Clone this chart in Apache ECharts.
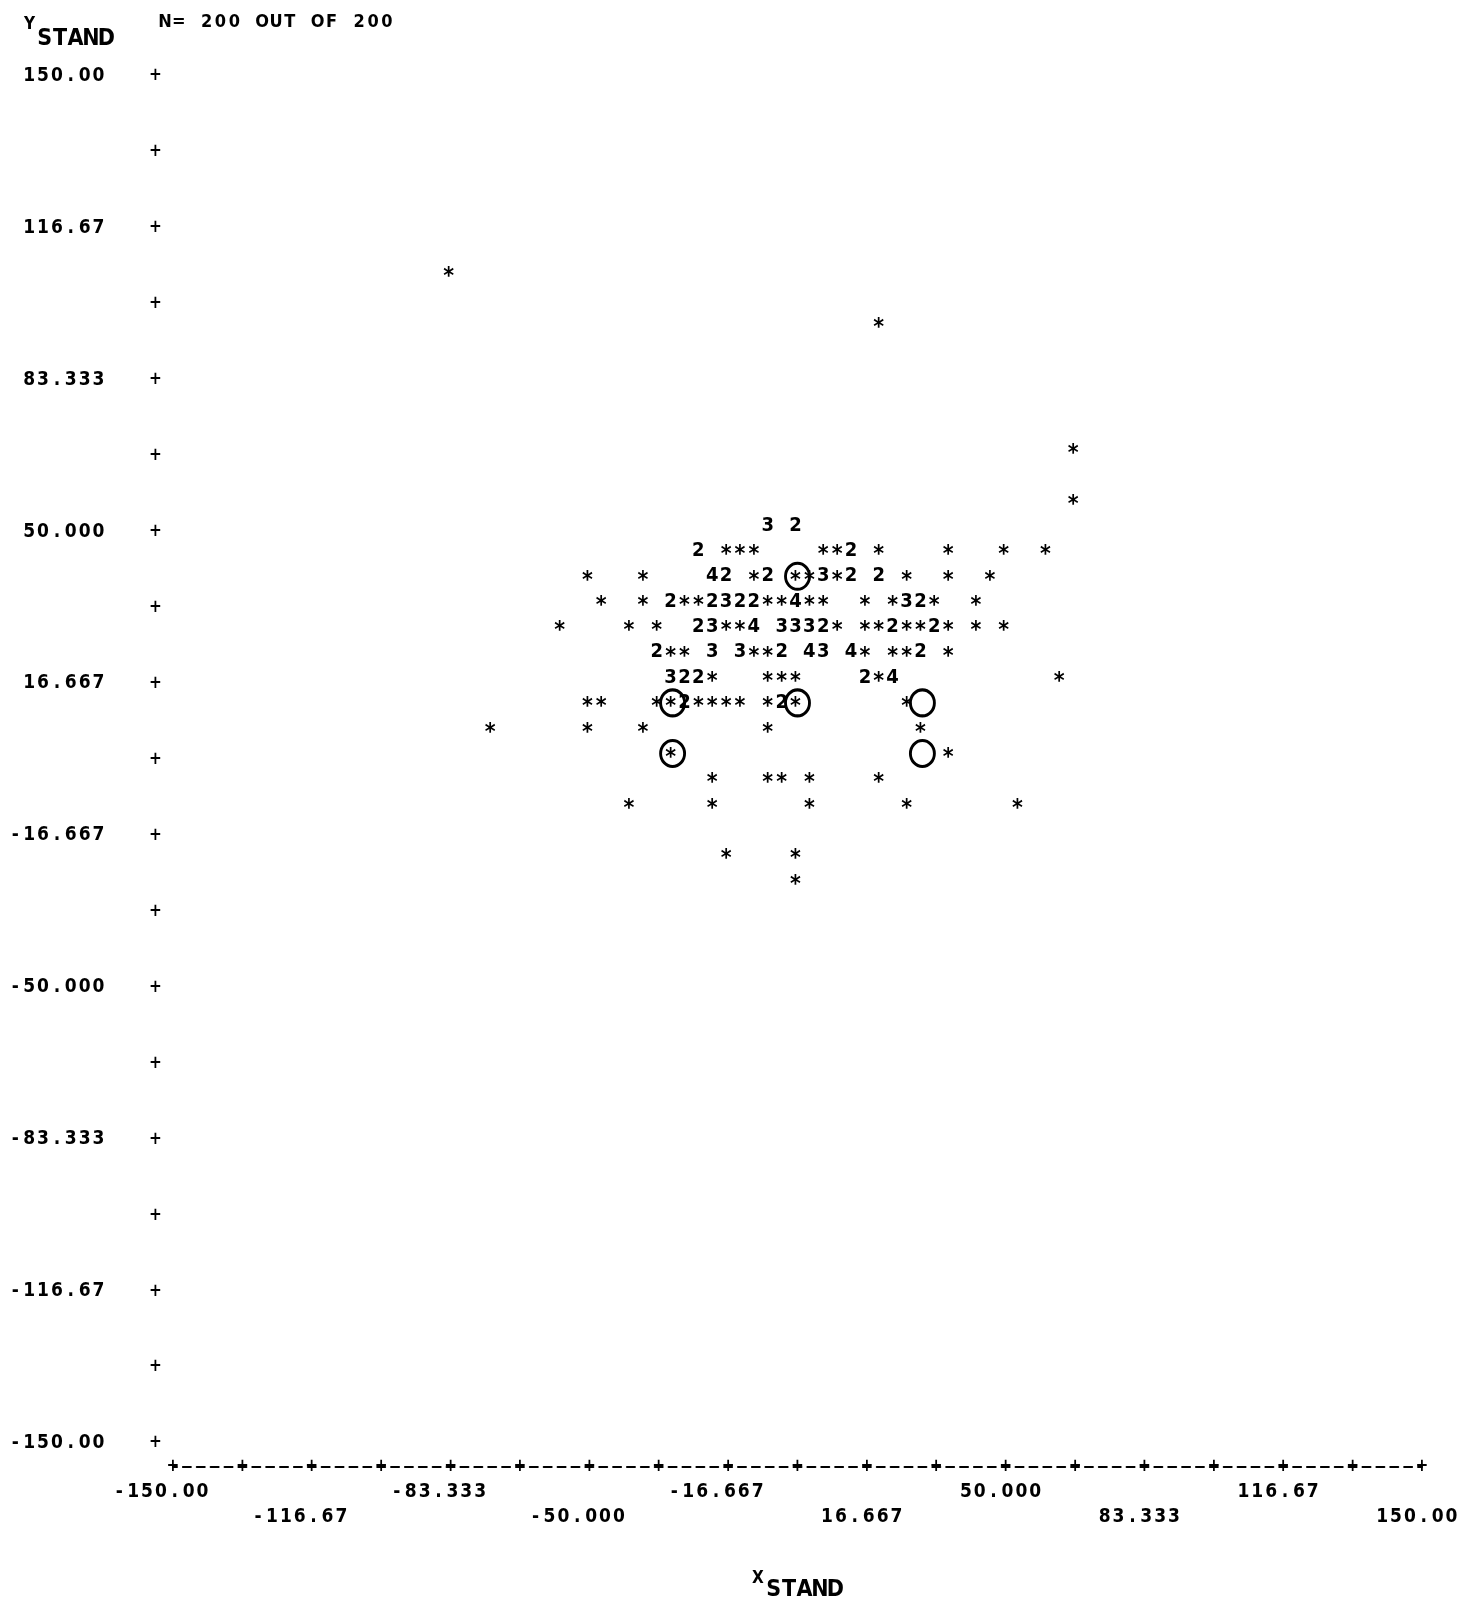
<!DOCTYPE html>
<html>
<head>
<meta charset="utf-8">
<script src="https://cdn.jsdelivr.net/npm/echarts@6/dist/echarts.min.js"></script>
<style>
  html, body { margin: 0; padding: 0; background: #fff; }
  #chart { width: 1461px; height: 1607px; }
</style>
</head>
<body>
<div id="chart"></div>
<script>
// Standardised X/Y scatter in line-printer style:
// '*' marks one case in a print cell, a digit marks that many cases.
const rowY = [105.56, 94.44, 66.67, 55.56, 50, 44.44, 38.89, 33.33, 27.78, 22.22,
              16.67, 11.11, 5.56, 0, -5.56, -11.11, -22.22, -27.78];
const rowX = [
  [-83.33],
  [20],
  [66.67],
  [66.67],
  [-6.67, 0],
  [-23.33, -16.67, -13.33, -10, 6.67, 10, 13.33, 20, 36.67, 50, 60],
  [-50, -36.67, -20, -16.67, -10, -6.67, 0, 3.33, 6.67, 10, 13.33, 20, 26.67, 36.67, 46.67],
  [-46.67, -36.67, -30, -26.67, -23.33, -20, -16.67, -13.33, -10, -6.67, -3.33, 0, 3.33, 6.67, 16.67, 23.33, 26.67, 30, 33.33, 43.33],
  [-56.67, -40, -33.33, -23.33, -20, -16.67, -13.33, -10, -3.33, 0, 3.33, 6.67, 10, 16.67, 20, 23.33, 26.67, 30, 33.33, 36.67, 43.33, 50],
  [-33.33, -30, -26.67, -20, -13.33, -10, -6.67, -3.33, 3.33, 6.67, 13.33, 16.67, 23.33, 26.67, 30, 36.67],
  [-30, -26.67, -23.33, -20, -6.67, -3.33, 0, 16.67, 20, 23.33, 63.33],
  [-50, -46.67, -33.33, -30, -26.67, -23.33, -20, -16.67, -13.33, -6.67, -3.33, 0, 26.67],
  [-73.33, -50, -36.67, -6.67, 30],
  [-30, 36.67],
  [-20, -6.67, -3.33, 3.33, 20],
  [-40, -20, 3.33, 26.67, 53.33],
  [-16.67, 0],
  [0]
];
const rowN = [
  [1],
  [1],
  [1],
  [1],
  [3, 2],
  [2, 1, 1, 1, 1, 1, 2, 1, 1, 1, 1],
  [1, 1, 4, 2, 1, 2, 1, 1, 3, 1, 2, 2, 1, 1, 1],
  [1, 1, 2, 1, 1, 2, 3, 2, 2, 1, 1, 4, 1, 1, 1, 1, 3, 2, 1, 1],
  [1, 1, 1, 2, 3, 1, 1, 4, 3, 3, 3, 2, 1, 1, 1, 2, 1, 1, 2, 1, 1, 1],
  [2, 1, 1, 3, 3, 1, 1, 2, 4, 3, 4, 1, 1, 1, 2, 1],
  [3, 2, 2, 1, 1, 1, 1, 2, 1, 4, 1],
  [1, 1, 1, 1, 2, 1, 1, 1, 1, 1, 2, 1, 1],
  [1, 1, 1, 1, 1],
  [1, 1],
  [1, 1, 1, 1, 1],
  [1, 1, 1, 1, 1],
  [1, 1],
  [1]
];

// Ringed cells
const circleX = [0, -30, 0, 30, -30, 30];
const circleY = [38.89, 11.11, 11.11, 11.11, 0, 0];

// Tick labels, from the minimum tick upwards ('' = tick without a number)
const xTickLabels = ['-150.00', '', '-116.67', '', '-83.333', '', '-50.000', '', '-16.667', '',
                     '16.667', '', '50.000', '', '83.333', '', '116.67', '', '150.00'];
const yTickLabels = ['-150.00', '', '-116.67', '', '-83.333', '', '-50.000', '', '-16.667', '',
                     '16.667', '', '50.000', '', '83.333', '', '116.67', '', '150.00'];

const headerText = 'N= 200 OUT OF 200';
const xNameSup = 'X', xNameMain = 'STAND';
const yNameSup = 'Y', yNameMain = 'STAND';

const FONT = "'DejaVu Sans Condensed','DejaVu Sans',sans-serif";
const INK = '#000';
const WEIGHT = 'bold';
const CELL = 1249 / 90;      // width of one print cell in px
const STEP = 100 / 6;        // tick step in data units

// one rich token per character so text keeps the fixed printer pitch
function spaced(str, key) {
  return str.split('').map(function (c) { return '{' + key + '|' + c + '}'; }).join('');
}

function txt(size, lh, extra) {
  const st = { fontFamily: FONT, fontSize: size, fontWeight: WEIGHT, lineHeight: lh, color: INK,
               textBorderWidth: 0 };
  return Object.assign(st, extra || {});
}

const points = [];
rowY.forEach(function (y, r) {
  rowX[r].forEach(function (x, j) { points.push([x, y, rowN[r][j]]); });
});

const chart = echarts.init(document.getElementById('chart'), null, { renderer: 'canvas' });

function titleStyle(key, st) {
  const rich = {};
  rich[key] = st;
  return { fontWeight: WEIGHT, rich: rich };
}

const option = {
  backgroundColor: '#ffffff',
  animation: false,
  title: [
    { text: spaced(headerText, 't'), left: 158, top: 12, padding: 0,
      textStyle: titleStyle('t', txt(18, 20, { width: CELL, align: 'center' })) },
    { text: '{s|' + yNameSup + '}', left: 24, top: 16, padding: 0,
      textStyle: titleStyle('s', txt(17, 18)) },
    { text: spaced(yNameMain, 'm'), left: 37, top: 29, padding: 0,
      textStyle: titleStyle('m', txt(23, 20, { width: 15.4, align: 'center' })) },
    { text: '{s|' + xNameSup + '}', left: 752, top: 1570, padding: 0,
      textStyle: titleStyle('s', txt(17, 18)) },
    { text: spaced(xNameMain, 'm'), left: 766, top: 1580, padding: 0,
      textStyle: titleStyle('m', txt(23, 20, { width: 15.4, align: 'center' })) }
  ],
  grid: { left: 173, right: 39, top: 70, bottom: 170, containLabel: false, outerBoundsMode: 'none' },
  xAxis: {
    type: 'value', min: -150, max: 150, interval: STEP,
    position: 'bottom', offset: 30,
    axisLine: { show: true, onZero: false, lineStyle: { color: INK, width: 2, type: [8, CELL - 8], dashOffset: 4 } },
    axisTick: { show: false },
    splitLine: { show: false },
    axisLabel: {
      show: true, margin: -12.5, color: INK, fontFamily: FONT,
      formatter: function (v) {
        const i = Math.round((v + 150) / STEP);
        const lab = xTickLabels[i] || '';
        let s = '{p|+}';
        if (lab) {
          const lower = (i / 2) % 2 === 1;
          s += (lower ? '\n{e| }' : '') + '\n' + spaced(lab, 'c') + '{sp' + lab.length + '| }';
        }
        return s;
      },
      rich: {
        p: txt(17, 25, { width: CELL, align: 'center' }),
        e: { width: CELL, fontSize: 10, lineHeight: 25 },
        c: txt(19, 25, { width: CELL, align: 'center' }),
        sp6: { width: CELL * 6 - 73, fontSize: 10, lineHeight: 25 },
        sp7: { width: CELL * 7 - 73, fontSize: 10, lineHeight: 25 }
      }
    }
  },
  yAxis: {
    type: 'value', min: -150, max: 150, interval: STEP,
    axisLine: { show: false },
    axisTick: { show: false },
    splitLine: { show: false },
    axisLabel: {
      show: true, margin: 10.5, color: INK, fontFamily: FONT, padding: [12, 0, 0, 0],
      formatter: function (v) {
        const i = Math.round((v + 150) / STEP);
        const lab = yTickLabels[i] || '';
        return (lab ? spaced(lab, 'c') + '{g| }' : '') + '{p|+}';
      },
      rich: {
        p: txt(17, 22, { width: 14, align: 'center' }),
        c: txt(19, 22, { width: CELL, align: 'center' }),
        g: { width: 43, fontSize: 10, lineHeight: 22 }
      }
    }
  },
  series: [
    {
      name: 'cases',
      type: 'scatter',
      data: points,
      symbolSize: 1,
      itemStyle: { color: 'rgba(0,0,0,0)', opacity: 1 },
      silent: true,
      z: 3,
      label: {
        show: true, position: 'inside', offset: [-2, 0], opacity: 1,
        color: INK, textBorderWidth: 0, textBorderColor: 'rgba(0,0,0,0)',
        formatter: function (p) {
          return p.value[2] > 1 ? '{d|' + p.value[2] + '}' : '{s|*}';
        },
        rich: {
          d: txt(20, 22),
          s: txt(23, 22, { padding: [9, 0, 0, 0] })
        }
      },
      emphasis: { disabled: true }
    },
    {
      name: 'rings',
      type: 'scatter',
      data: circleX.map(function (x, i) { return [x, circleY[i]]; }),
      symbol: 'circle',
      symbolSize: [24, 26],
      itemStyle: { color: 'rgba(0,0,0,0)', borderColor: INK, borderWidth: 3, opacity: 1 },
      silent: true,
      z: 4,
      emphasis: { disabled: true }
    }
  ]
};

chart.setOption(option);
</script>
</body>
</html>
